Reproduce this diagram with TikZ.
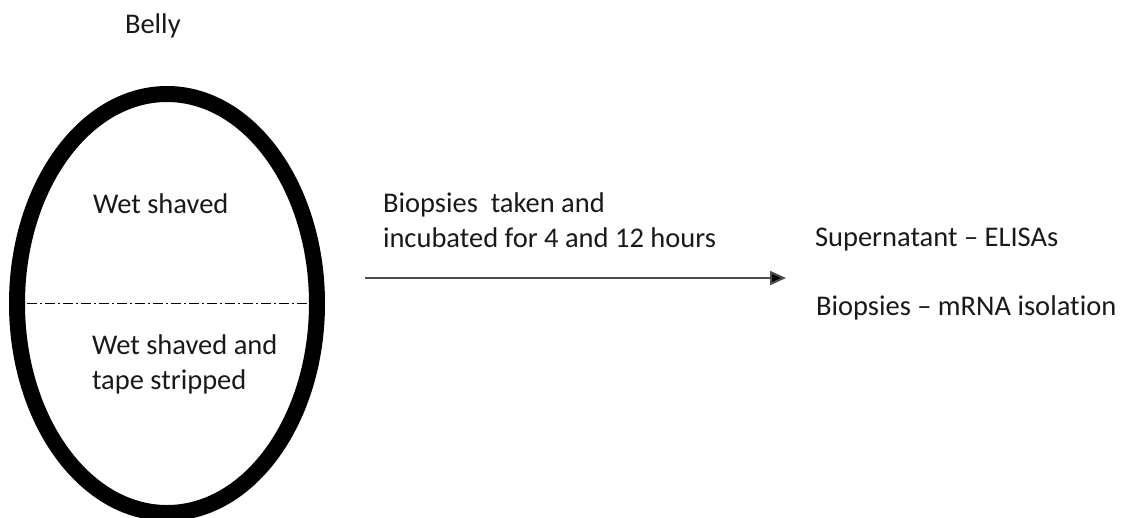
\documentclass[tikz,border=0pt]{standalone}
\usepackage{fontspec}
\setmainfont{Carlito}[RawFeature={-liga;-clig;-calt;-dlig}]
\usetikzlibrary{shapes.geometric,arrows.meta}
\begin{document}
\begin{tikzpicture}[x=1pt,y=-1pt,
  lbl/.style={anchor=base west,inner sep=0pt,outer sep=0pt,font=\fontsize{28.5}{35}\selectfont,text=black!90},
  egg/.style={draw,ellipse,line width=16pt,inner sep=0pt,minimum width=300pt,minimum height=419pt},
  divider/.style={line width=1.2pt,dash pattern=on 10pt off 3pt on 2pt off 3pt},
  flow/.style={line width=2pt,draw=black!70,-{Triangle[length=16pt,width=14pt,fill=black]}}]
\useasboundingbox (0,0) rectangle (1123,517);
\begin{scope}
\clip (0,0) rectangle (1123,517);
\node[egg] (belly) at (167,303.5) {};
\end{scope}
\draw[divider] (belly.west) -- (belly.east);
\node[lbl] (bellylbl) at (125,33) {Belly};
\node[lbl] (wet) at (93,213) {Wet shaved};
\node[lbl,align=left] (wettape) at (92,389) {Wet shaved and\\tape stripped};
\node[lbl,align=left] (bio) at (383,247) {Biopsies\ \ taken and\\incubated for 4 and 12 hours};
\coordinate (astart) at (365,278);
\coordinate (aend) at (786,278);
\draw[flow] (astart) -- (aend);
\node[lbl] (super) at (815,246) {Supernatant – ELISAs};
\node[lbl] (mrna) at (816,315) {Biopsies – mRNA isolation};
\end{tikzpicture}
\end{document}
